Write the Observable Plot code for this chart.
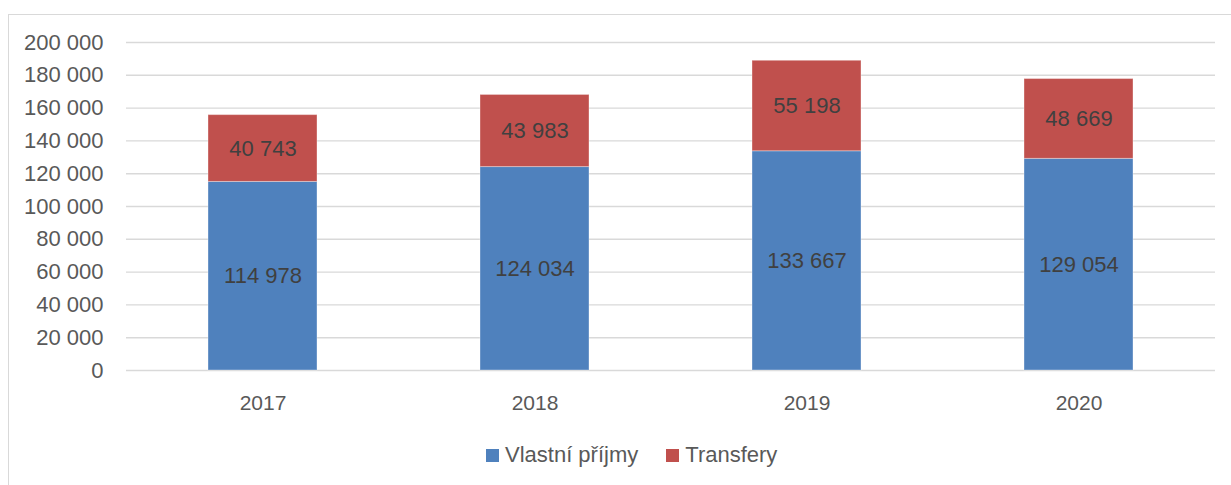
<!DOCTYPE html>
<html>
<head>
<meta charset="utf-8">
<script src="https://cdn.jsdelivr.net/npm/d3@7"></script>
<script src="https://cdn.jsdelivr.net/npm/@observablehq/plot@0.6"></script>
<style>
  html, body { margin: 0; padding: 0; background: #fff; overflow: hidden; }
  #wrap { position: relative; width: 1231px; height: 485px; font-family: "Liberation Sans", Arial, sans-serif; }
  #frame { position: absolute; left: 8px; top: 14px; width: 1240px; height: 500px; border: 1px solid #d9d9d9; box-sizing: border-box; pointer-events: none; }
  #chart svg { display: block; }
  #legend { position: relative; padding-top: 22px; padding-left: 486px; display: flex; align-items: center; font-size: 22px; color: #595959; line-height: 26px; }
  .sw { display: inline-block; width: 13px; height: 13px; margin-right: 6px; }
  .item { display: inline-flex; align-items: center; margin-right: 28px; }
</style>
</head>
<body>
<div id="wrap">
  <div id="frame"></div>
  <div id="chart"></div>
  <div id="legend"></div>
</div>
<script>
const years = ["2017", "2018", "2019", "2020"];
const seriesNames = ["Vlastní příjmy", "Transfery"];
const vlastniPrijmy = [114978, 124034, 133667, 129054];
const transfery = [40743, 43983, 55198, 48669];
const yTicks = [0, 20000, 40000, 60000, 80000, 100000, 120000, 140000, 160000, 180000, 200000];
const colors = ["#4f81bd", "#c0504d"];

const locale = d3.formatLocale({decimal: ",", thousands: " ", grouping: [3], currency: ["", ""]});
const fmt = locale.format(",");

const data = [];
years.forEach((y, i) => {
  data.push({year: y, series: seriesNames[0], value: vlastniPrijmy[i]});
  data.push({year: y, series: seriesNames[1], value: transfery[i]});
});

const chart = Plot.plot({
  width: 1231,
  height: 420,
  marginTop: 42,
  marginBottom: 50,
  marginLeft: 126,
  marginRight: 16,
  style: {fontFamily: "'Liberation Sans', Arial, sans-serif", color: "#595959", background: "transparent"},
  x: {domain: years, paddingInner: 0.6, paddingOuter: 0.3, label: null},
  y: {domain: [0, 200000], label: null},
  color: {domain: seriesNames, range: colors},
  marks: [
    Plot.ruleY(yTicks, {stroke: "#d9d9d9", strokeWidth: 1.4}),
    Plot.barY(data, {x: "year", y: "value", fill: "series", order: seriesNames, stroke: "#ffffff", strokeOpacity: 0.35, strokeWidth: 1}),
    Plot.text(data, Plot.stackY({x: "year", y: "value", z: "series", order: seriesNames, text: d => fmt(d.value), fill: "#404040", fontSize: 22})),
    Plot.axisY({ticks: yTicks, tickSize: 0, tickPadding: 23, tickFormat: fmt, fontSize: 22, label: null}),
    Plot.axisX({tickSize: 0, tickPadding: 25, fontSize: 21, label: null})
  ]
});
document.getElementById("chart").appendChild(chart);

const legend = document.getElementById("legend");
seriesNames.forEach((name, i) => {
  const item = document.createElement("span");
  item.className = "item";
  const sw = document.createElement("span");
  sw.className = "sw";
  sw.style.background = colors[i];
  item.appendChild(sw);
  item.appendChild(document.createTextNode(name));
  legend.appendChild(item);
});
</script>
</body>
</html>
